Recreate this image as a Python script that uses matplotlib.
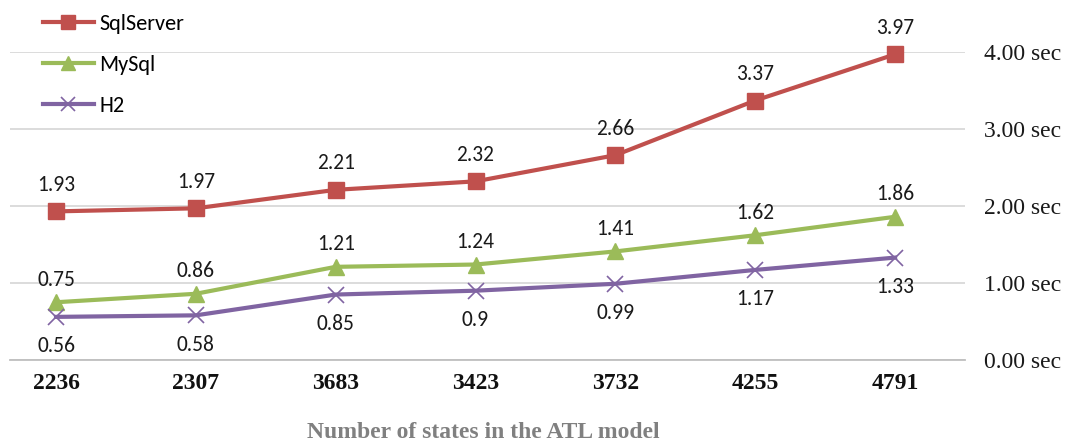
import numpy as np
import matplotlib
matplotlib.use("Agg")
import matplotlib.pyplot as plt

states = ["2236", "2307", "3683", "3423", "3732", "4255", "4791"]
sqlserver = [1.93, 1.97, 2.21, 2.32, 2.66, 3.37, 3.97]
mysql = [0.75, 0.86, 1.21, 1.24, 1.41, 1.62, 1.86]
h2 = [0.56, 0.58, 0.85, 0.9, 0.99, 1.17, 1.33]
yticks = [0, 1, 2, 3, 4]

W, H = 1071, 444
fig = plt.figure(figsize=(W / 100, H / 100), dpi=100)
# axes box in pixels: left 10, right 965, top 52, bottom 360
ax = fig.add_axes([10 / W, (H - 360) / H, 955 / W, 308 / H])

x = np.arange(len(states))
label_font = dict(family=["Carlito", "Lato", "DejaVu Sans"], fontsize=15.5, color="#1a1a1a")

ax.plot(x, sqlserver, color="#C0504D", lw=3, marker="s", ms=11, label="SqlServer", clip_on=False, zorder=3)
ax.plot(x, mysql, color="#9BBB59", lw=3, marker="^", ms=12, label="MySql", clip_on=False, zorder=3)
ax.plot(x, h2, color="#8064A2", lw=3, marker="x", ms=11, mew=1.2, label="H2", clip_on=False, zorder=3)

for i in x:
    ax.annotate(f"{sqlserver[i]:g}", (i, sqlserver[i]), xytext=(0, 12), textcoords="offset points",
                ha="center", va="bottom", **label_font)
    ax.annotate(f"{mysql[i]:g}", (i, mysql[i]), xytext=(0, 9), textcoords="offset points",
                ha="center", va="bottom", **label_font)
    ax.annotate(f"{h2[i]:g}", (i, h2[i]), xytext=(0, -14), textcoords="offset points",
                ha="center", va="top", **label_font)

ax.set_xlim(-0.329, 6.5)
ax.set_ylim(0, 4)
ax.set_yticks(yticks)
ax.set_yticklabels([f"{v:.2f} sec" for v in yticks], family="Liberation Serif", fontsize=17, color="#1a1a1a")
ax.yaxis.tick_right()
ax.tick_params(axis="y", length=0, pad=14)
ax.set_xticks(x)
ax.set_xticklabels(states, family="Liberation Serif", fontsize=17, fontweight="bold", color="#111111")
ax.tick_params(axis="x", length=0, pad=9)

ax.grid(axis="y", color="#D9D9D9", lw=1.3, zorder=0)
for s in ["top", "left", "right"]:
    ax.spines[s].set_visible(False)
ax.spines["bottom"].set_color("#BFBFBF")
ax.spines["bottom"].set_linewidth(1.3)

leg = ax.legend(loc="upper left", bbox_to_anchor=(24 / 955, 1 + 47 / 308), frameon=False,
                prop=dict(family=["Carlito", "Lato", "DejaVu Sans"], size=16),
                handlelength=2.3, handletextpad=0.25, labelspacing=0.95, borderaxespad=0)
for line in leg.get_lines():
    line.set_markersize(10)

fig.text(483 / W, 1 - 432 / H, "Number of states in the ATL model", family="Liberation Serif",
         fontsize=17, fontweight="bold", color="#808080", ha="center", va="center")

fig.savefig("out.png", dpi=100)
